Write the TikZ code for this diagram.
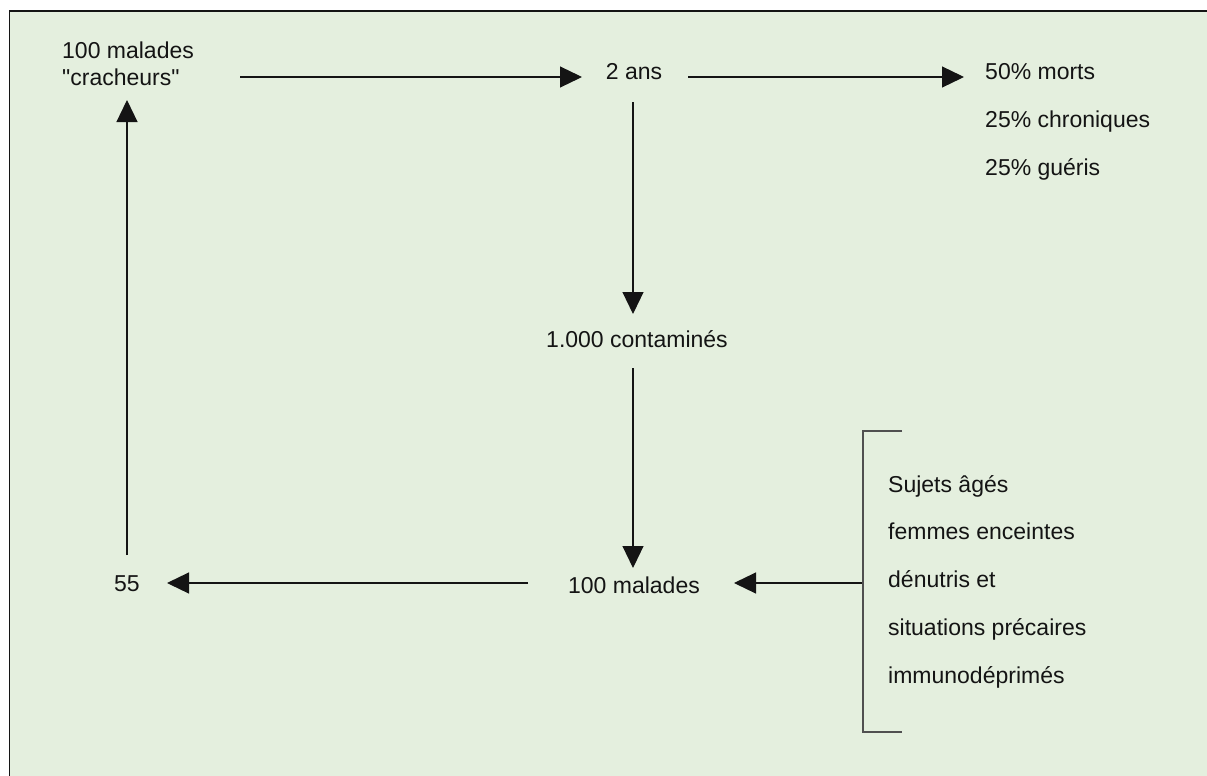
\documentclass[tikz,border=0pt]{standalone}
\usepackage{fontspec}
\setmainfont{Liberation Sans}
% same face without the TeX quote mapping, for straight quotation marks
\newfontfamily\straightq{Liberation Sans}[Ligatures=TeXOff]
\usetikzlibrary{arrows.meta}
\definecolor{panel}{RGB}{228,239,222}
\definecolor{ink}{RGB}{20,20,20}
\definecolor{rule}{RGB}{80,80,80}
\begin{document}
\begin{tikzpicture}[x=1pt,y=-1pt,
  lbl/.style={inner sep=0pt, font=\fontsize{23}{26}\selectfont, text=ink},
  flow/.style={draw=ink, line width=1.2pt, -{Triangle[length=22pt,width=21pt]}},
  brk/.style={draw=rule, line width=1.2pt}]
\useasboundingbox (0,0) rectangle (1207,776);
% panel with its top and left rules
\fill[panel] (9.5,11) rectangle (1207,776);
\draw[line width=1.5pt, ink] (9.5,776) -- (9.5,11) -- (1207,11);

% labels
\node[lbl, anchor=base west] (src)  at (62,59) {100 malades};
\node[lbl, anchor=base west] (srcq) at (62,85) {\straightq "cracheurs"};
\node[lbl, anchor=base] (ans)  at (634,79) {2 ans};
\node[lbl, anchor=base west] (o1) at (985,79)  {50\% morts};
\node[lbl, anchor=base west] (o2) at (985,127) {25\% chroniques};
\node[lbl, anchor=base west] (o3) at (985,175) {25\% guéris};
\node[lbl, anchor=base] (cont) at (637,347) {1.000 contaminés};
\node[lbl, anchor=base] (mal)  at (634,593) {100 malades};
\node[lbl, anchor=base] (n55)  at (127,591) {55};
\node[lbl, anchor=base west] (r1) at (888,492) {Sujets âgés};
\node[lbl, anchor=base west] (r2) at (888,539) {femmes enceintes};
\node[lbl, anchor=base west] (r3) at (888,587) {dénutris et};
\node[lbl, anchor=base west] (r4) at (888,635) {situations précaires};
\node[lbl, anchor=base west] (r5) at (888,683) {immunodéprimés};

% connector end points
\coordinate (a0) at (240,77);  \coordinate (a1) at (582,77);
\coordinate (b0) at (688,77);  \coordinate (b1) at (964,77);
\coordinate (c0) at (633,102); \coordinate (c1) at (633,314);
\coordinate (d0) at (633,368); \coordinate (d1) at (633,568);
\coordinate (e0) at (528,583); \coordinate (e1) at (167,583);
\coordinate (f0) at (127,555); \coordinate (f1) at (127,100);
\coordinate (g0) at (863,583); \coordinate (g1) at (734,583);

% flows
\draw[flow] (a0) -- (a1);
\draw[flow] (b0) -- (b1);
\draw[flow] (c0) -- (c1);
\draw[flow] (d0) -- (d1);
\draw[flow] (e0) -- (e1);
\draw[flow] (f0) -- (f1);
\draw[flow] (g0) -- (g1);

% bracket grouping the risk factors
\draw[brk] (902,431) -- (863,431) -- (863,732) -- (902,732);
\end{tikzpicture}
\end{document}
